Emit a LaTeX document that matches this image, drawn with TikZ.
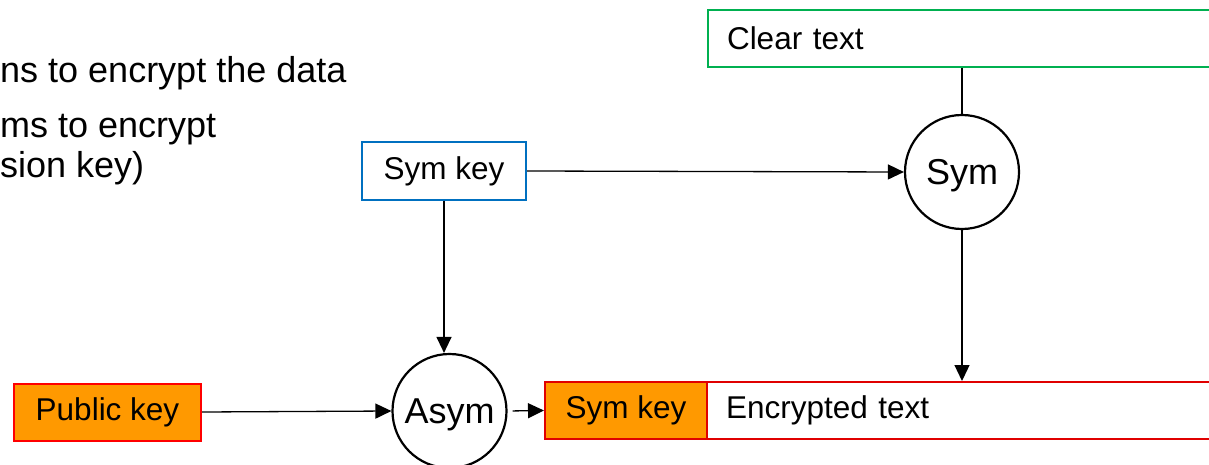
\documentclass[tikz,border=0pt]{standalone}
\usepackage{fontspec}
\setmainfont{Liberation Sans}
\usetikzlibrary{arrows.meta}

\definecolor{keyorange}{HTML}{FF9900}
\definecolor{boxgreen}{HTML}{00B050}
\definecolor{boxblue}{HTML}{0070C0}
\definecolor{boxred}{HTML}{E00000}

\tikzset{
  box/.style={draw, line width=2pt, minimum height=57pt, inner sep=0pt,
    font=\fontsize{31.5}{36}\selectfont},
  widebox/.style={box, text width=480pt, align=left, inner xsep=19pt},
  cipher/.style={circle, draw, line width=2.2pt, minimum size=114pt, inner sep=0pt,
    text depth=0pt, font=\fontsize{36}{40}\selectfont},
  bullet/.style={anchor=base west, inner sep=0pt, font=\fontsize{36}{40}\selectfont},
  flow/.style={line width=1.3pt, -{Triangle[length=16pt,width=15pt]}}
}

\begin{document}
\begin{tikzpicture}[x=1pt, y=-1pt]
\clip (0,0) rectangle (1209,465);
\fill [white] (0,0) rectangle (1209,465);
% bullet text running in from the left
\node [bullet] (lineA) at (0,83) {ns to encrypt the data};
\node [bullet] (lineB) at (0,138) {ms to encrypt};
\node [bullet] (lineC) at (0,178) {sion key)};
% boxes
\node [widebox, draw=boxgreen] (clear) at (967,38.5) {Clear text};
\node [box, draw=boxblue, minimum width=164pt] (symkey) at (444,171) {Sym key};
\node [box, draw=red, fill=keyorange, minimum width=187pt] (pubkey) at (107.5,412) {Public key};
\node [box, draw=boxred, fill=keyorange, minimum width=162pt] (wrapped) at (626,410.5) {Sym key};
\node [widebox, draw=boxred] (enc) at (966,410.5) {Encrypted text};
% ciphers
\node [cipher] (sym) at (962,172) {Sym};
\node [cipher] (asym) at (449.5,411) {Asym};
% connectors
\draw [line width=1.3pt] (sym.north |- clear.south) -- (sym.north);
\draw [flow] (symkey.east) -- (sym.west);
\draw [flow] (sym.south) -- (sym.south |- enc.north);
\draw [flow] (symkey.south) -- (symkey.south |- asym.north);
\draw [flow] (pubkey.east) -- (asym.west);
\draw [flow, shorten <=5pt] (asym.east) -- (wrapped.west);
\end{tikzpicture}
\end{document}
